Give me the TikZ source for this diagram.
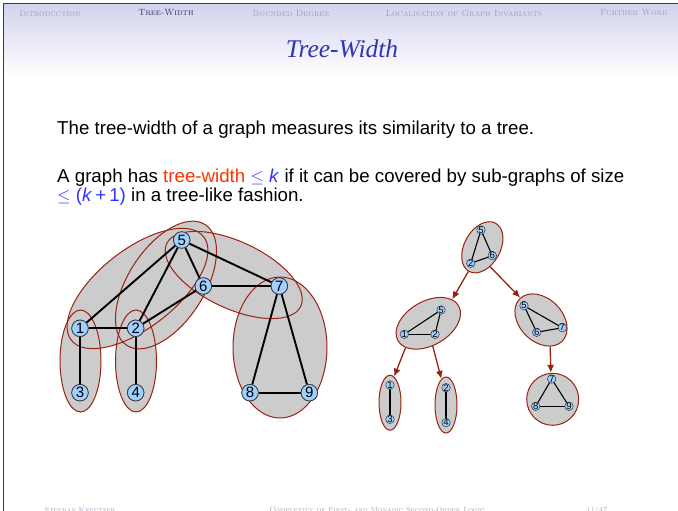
\documentclass[tikz,border=0pt]{standalone}
\usepackage{fontspec}
\usepackage{xcolor}
\usepackage{tikz}
\usetikzlibrary{arrows.meta,shapes.geometric}
\newfontfamily\helv{Liberation Sans}
\newfontfamily\timesf{Liberation Serif}
\definecolor{bagfill}{RGB}{204,204,204}
\definecolor{bagline}{RGB}{153,34,17}
\definecolor{vertfill}{RGB}{160,208,255}
\definecolor{navtext}{RGB}{160,160,185}
\definecolor{navact}{RGB}{45,45,90}
\definecolor{titleblue}{RGB}{51,51,179}
\definecolor{hilite}{RGB}{255,51,0}
\definecolor{mathblue}{RGB}{51,51,255}
\definecolor{hdr}{RGB}{210,210,238}
\definecolor{frame}{RGB}{60,60,60}

\begin{document}
\begin{tikzpicture}[x=1pt, y=-1pt, every node/.style={inner sep=0pt},
  bag/.style={ellipse, inner sep=0pt},
  gnode/.style={circle, draw=black!80, line width=0.7pt, fill=vertfill, minimum size=16.5pt, font=\helv\fontsize{15}{15}\selectfont},
  gedge/.style={line width=1.9pt},
  tnode/.style={circle, draw=black!80, line width=0.5pt, fill=vertfill, minimum size=8.5pt, font=\helv\fontsize{9.5}{9.5}\selectfont},
  tedge/.style={line width=1.1pt},
  tarrow/.style={bagline, line width=1.3pt, -{Latex[length=8pt,width=7pt]}},
  nav/.style={font=\fontsize{9}{10}\selectfont\scshape, text=navtext},
  foot/.style={font=\fontsize{7.5}{8}\selectfont\scshape, text=navtext, anchor=base},
  body/.style={anchor=base west, font=\helv\fontsize{18.7}{18.7}\selectfont}]
\useasboundingbox (0,0) rectangle (678,511);
% ---- frame and header
\shade[top color=hdr, bottom color=white] (4,4) rectangle (678,76);
\draw[line width=1.4pt, frame] (3.5,511) -- (3.5,3.5) -- (678,3.5);
\node[nav] (nav1) at (50,13) {Introduction};
\node[nav, text=navact] (nav2) at (166,13) {Tree-Width};
\node[nav] (nav3) at (291,13) {Bounded Degree};
\node[nav] (nav4) at (464,13) {Localisation of Graph Invariants};
\node[nav] (nav5) at (634,13) {Further Work};
\node[font=\timesf\itshape\fontsize{25.5}{25.5}\selectfont, text=titleblue, anchor=base] (title) at (342,58) {Tree-Width};
% ---- text
\node[body] (line1) at (57,135) {The tree-width of a graph measures its similarity to a tree.};
\node[body] (line2) at (57,182) {A graph has \textcolor{hilite}{tree-width} \textcolor{mathblue}{$\leq$ \textit{k}} if it can be covered by sub-graphs of size};
\node[body] (line3) at (57,201) {\textcolor{mathblue}{$\leq$ (\textit{k}\,+\,1)} in a tree-like fashion.};
% ---- left: the graph and its bags
\foreach \p/\w/\h/\r in {{(80.5,361)}/41/102/0, {(136,361)}/41/102/0, {(137.5,288.5)}/168/78/38,
  {(166,285)}/144/76/57, {(233.7,275)}/148/67/-25, {(280,347.5)}/94/141/0}
  \node[bag, fill=bagfill, minimum width=\w, minimum height=\h, rotate=\r] at \p {};
\foreach \p/\w/\h/\r in {{(80.5,361)}/41/102/0, {(136,361)}/41/102/0, {(137.5,288.5)}/168/78/38,
  {(166,285)}/144/76/57, {(233.7,275)}/148/67/-25, {(280,347.5)}/94/141/0}
  \node[bag, draw=bagline, line width=1pt, minimum width=\w, minimum height=\h, rotate=\r] at \p {};
\foreach \i/\x/\y in {1/80/328.3, 2/135.7/328.3, 3/80/392.7, 4/135.7/392.7, 5/181.7/240,
  6/203.3/286, 7/279.3/286, 8/250/392.7, 9/309.3/392.7}
  \node[gnode] (n\i) at (\x,\y) {};
\foreach \a/\b in {1/2,1/3,1/5,2/4,2/5,2/6,5/6,5/7,6/7,7/8,7/9,8/9}
  \draw[gedge] (n\a) -- (n\b);
\foreach \i in {1,...,9}
  \node[gnode] at (n\i) {\i};
% ---- right: the tree decomposition
\node[bag, fill=bagfill, draw=bagline, line width=1pt, minimum width=55, minimum height=36, rotate=61] (tA) at (482.3,247.3) {};
\node[bag, fill=bagfill, draw=bagline, line width=1pt, minimum width=70, minimum height=44, rotate=30] (tB) at (428.3,323.3) {};
\node[bag, fill=bagfill, draw=bagline, line width=1pt, minimum width=60, minimum height=43, rotate=-45] (tC) at (541,320) {};
\node[bag, fill=bagfill, draw=bagline, line width=1pt, minimum width=22, minimum height=55] (tD) at (390,402.7) {};
\node[bag, fill=bagfill, draw=bagline, line width=1pt, minimum width=22, minimum height=56] (tE) at (446,405) {};
\node[bag, fill=bagfill, draw=bagline, line width=1pt, minimum width=52, minimum height=52] (tF) at (552.7,399.3) {};
\draw[tarrow] (tA.179) -- (tB.15);
\draw[tarrow] (tA.231) -- (tC.178);
\draw[tarrow] (tB.197) -- (tD.81);
\draw[tarrow] (tB.251) -- (tE.100);
\draw[tarrow] (tC.334) -- (tF.94);
\foreach \n/\x/\y in {a5/481/230, a2/470.7/263.3, a6/492.3/255.7,
  b5/441/310, b1/404.3/334.3, b2/435/334.3,
  c5/524/305.7, c6/536.7/332.3, c7/562.3/327.7,
  d1/390/385, d3/390/419.3, e2/446/387.7, e4/446/422.7,
  f7/551.7/379, f8/535.7/406.3, f9/569/406.3}
  \coordinate (\n) at (\x,\y);
\foreach \a/\b in {a5/a2,a5/a6,a2/a6,b1/b2,b1/b5,b2/b5,c5/c6,c5/c7,c6/c7,d1/d3,e2/e4,f7/f8,f7/f9,f8/f9}
  \draw[tedge] (\a) -- (\b);
\foreach \n/\l in {a5/5,a2/2,a6/6,b5/5,b1/1,b2/2,c5/5,c6/6,c7/7,d1/1,d3/3,e2/2,e4/4,f7/7,f8/8,f9/9}
  \node[tnode] at (\n) {\l};
% ---- footer
\node[foot] (author) at (80,512) {Stephan Kreutzer};
\node[foot] (talk) at (377,512) {Complexity of First- and Monadic Second-Order Logic};
\node[foot] (page) at (597,512) {11/47};
\end{tikzpicture}
\end{document}
